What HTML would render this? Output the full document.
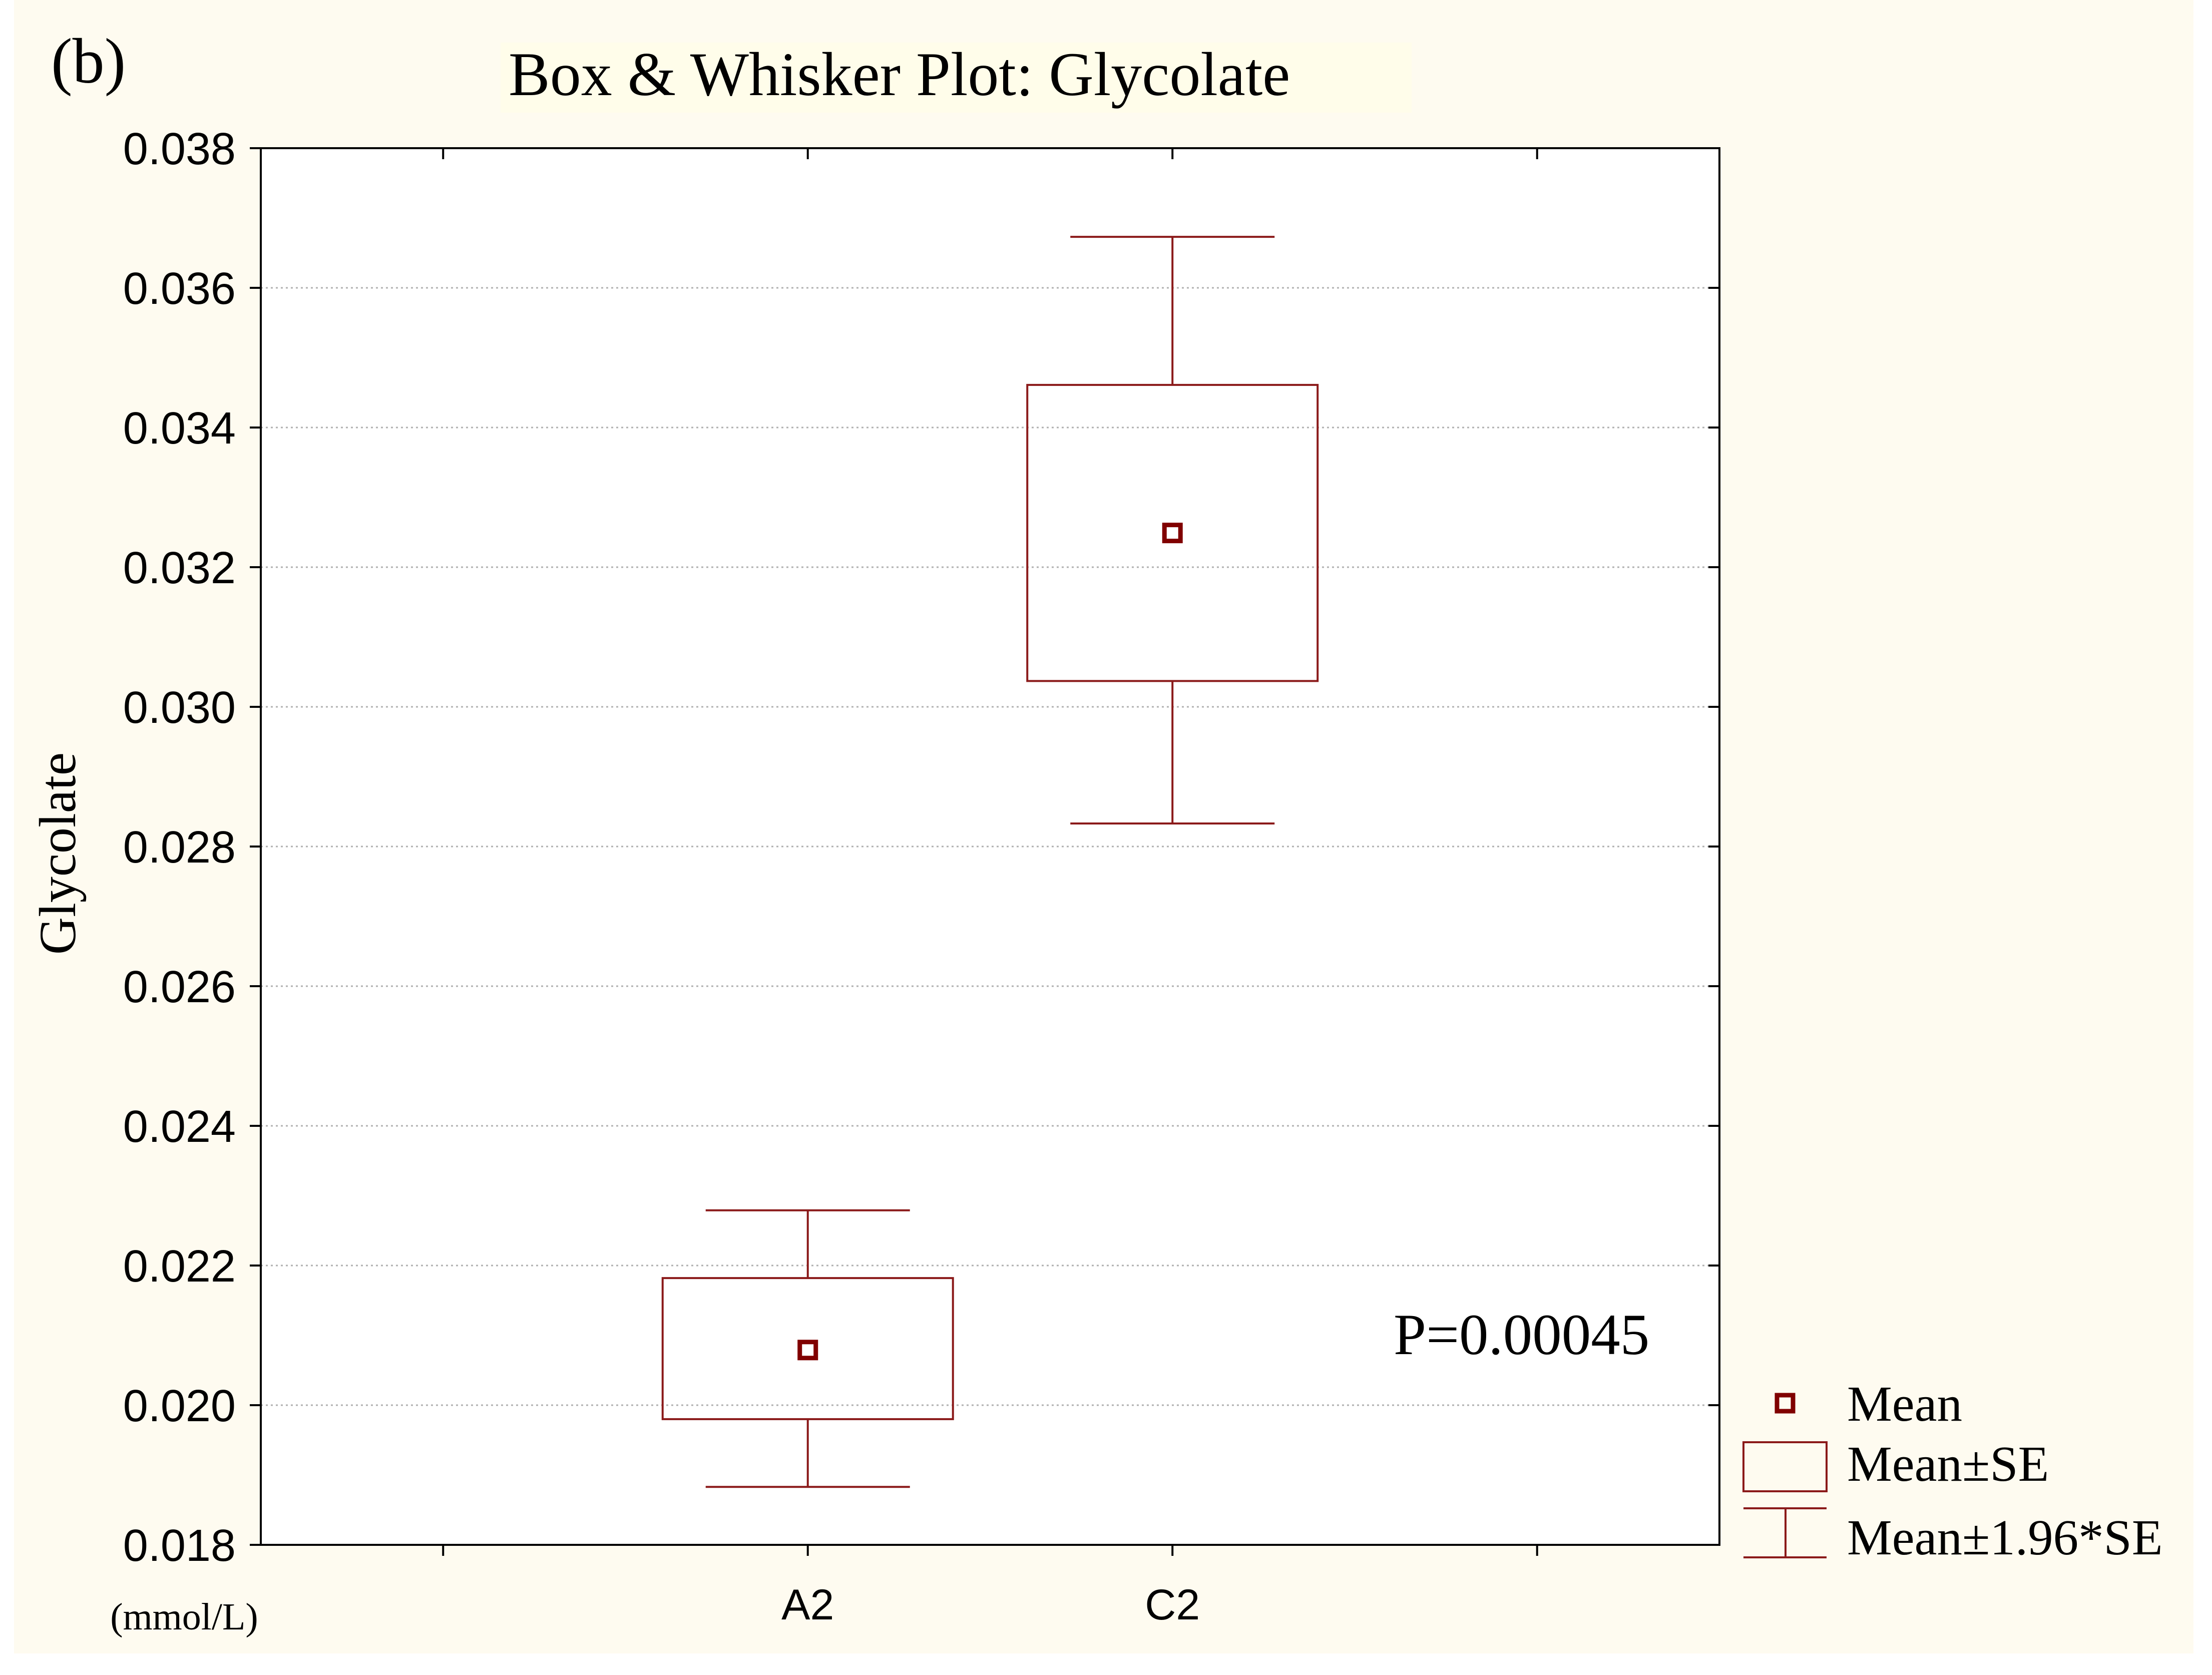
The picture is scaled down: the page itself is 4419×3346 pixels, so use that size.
<!DOCTYPE html>
<html><head><meta charset="utf-8"><style>
html,body{margin:0;padding:0;background:#fff;}
svg{display:block;}
</style></head><body>
<svg id="chart" width="4419" height="3346" viewBox="0 0 4419 3346" xmlns="http://www.w3.org/2000/svg">
<rect x="28" y="0" width="4354" height="3303" fill="#fefbf0"/>
<rect x="1000" y="85" width="1820" height="140" fill="#fffdea"/>
<rect x="521" y="296" width="2914" height="2790" fill="#ffffff"/>
<text x="102" y="165" font-family="Liberation Serif, serif" font-size="128" fill="#000">(b)</text>
<text x="1016" y="190" font-family="Liberation Serif, serif" font-size="124" fill="#000">Box &amp; Whisker Plot: Glycolate</text>
<text transform="translate(150,1705) rotate(-90)" text-anchor="middle" font-family="Liberation Serif, serif" font-size="104" fill="#000">Glycolate</text>
<text x="368" y="3255" text-anchor="middle" font-family="Liberation Serif, serif" font-size="76" fill="#000">(mmol/L)</text>
<text x="2784" y="2705" font-family="Liberation Serif, serif" font-size="117" fill="#000">P=0.00045</text>
<g id="grid"></g><g id="axes"></g><g id="marks"></g>
<g>
<rect x="3550" y="2787" width="32" height="32" fill="none" stroke="#800000" stroke-width="9"/>
<text x="3690" y="2838" font-family="Liberation Serif, serif" font-size="101" fill="#000">Mean</text>
<rect x="3483" y="2881" width="166" height="98" fill="none" stroke="#8b1a1a" stroke-width="4"/>
<text x="3690" y="2958" font-family="Liberation Serif, serif" font-size="101" fill="#000">Mean±SE</text>
<g stroke="#8b1a1a" stroke-width="4">
<line x1="3483" y1="3013" x2="3649" y2="3013"/><line x1="3483" y1="3111" x2="3649" y2="3111"/><line x1="3567" y1="3013" x2="3567" y2="3111"/></g>
<text x="3690" y="3105" font-family="Liberation Serif, serif" font-size="101" fill="#000">Mean±1.96*SE</text>
</g>
</svg>
<script>
const categories = ["A2", "C2"];
const means = [0.02079, 0.03249];
const seUpper = [0.02182, 0.03461];
const seLower = [0.01980, 0.03037];
const ciUpper = [0.02279, 0.03673];
const ciLower = [0.01883, 0.02833];
const yTicks = [0.018, 0.020, 0.022, 0.024, 0.026, 0.028, 0.030, 0.032, 0.034, 0.036, 0.038];
const yTickLabels = ["0.018","0.020","0.022","0.024","0.026","0.028","0.030","0.032","0.034","0.036","0.038"];
const catIndex = [1, 2];

const L=521,R=3435,T=296,B=3086,yMin=0.018,yMax=0.038,nSlots=4;
const y = v => B - (v - yMin) / (yMax - yMin) * (B - T);
const slot = (R - L) / nSlots;
const x = i => L + (i + 0.5) * slot;
const NS = "http://www.w3.org/2000/svg";
function mk(tag, attrs, parent){const e=document.createElementNS(NS,tag);for(const k in attrs)e.setAttribute(k,attrs[k]);parent.appendChild(e);return e;}
const grid=document.getElementById('grid'), axes=document.getElementById('axes'), marks=document.getElementById('marks');

yTicks.forEach((t,i)=>{
  const yy=y(t);
  if(i>0&&i<yTicks.length-1){
    const g=mk('line',{x1:L,x2:R,y1:yy,y2:yy,stroke:'#b0b0b0','stroke-width':3,'stroke-dasharray':'4 6'},grid);
    
    
  }
  const tk=mk('line',{x1:L-22,x2:L,y1:yy,y2:yy,stroke:'#000','stroke-width':4},axes);
  
  
  const tr=mk('line',{x1:R-22,x2:R,y1:yy,y2:yy,stroke:'#000','stroke-width':4},axes);
  
  
  const lb=mk('text',{x:471,y:yy+32,'text-anchor':'end','font-family':'Liberation Sans, sans-serif','font-size':90,fill:'#000'},axes);
  lb.textContent=yTickLabels[i];
  
  
});
for(let i=0;i<nSlots;i++){
  const xx=x(i);
  const t1=mk('line',{x1:xx,x2:xx,y1:B,y2:B+22,stroke:'#000','stroke-width':4},axes);
  
  
  const t2=mk('line',{x1:xx,x2:xx,y1:T,y2:T+22,stroke:'#000','stroke-width':4},axes);
  
  
}
const frame=mk('rect',{x:L,y:T,width:R-L,height:B-T,fill:'none',stroke:'#000','stroke-width':4},axes);



const boxHalf=290, capHalf=204, col='#8b1a1a';
categories.forEach((c,i)=>{
  const cx=x(catIndex[i]);
  const lb=mk('text',{x:cx,y:3235,'text-anchor':'middle','font-family':'Liberation Sans, sans-serif','font-size':86,fill:'#000'},axes);
  lb.textContent=c;
  
  
  const g=mk('g',{stroke:col,'stroke-width':4,fill:'none'},marks);
  
  
  mk('line',{x1:cx,x2:cx,y1:y(ciUpper[i]),y2:y(seUpper[i])},g);
  mk('line',{x1:cx,x2:cx,y1:y(seLower[i]),y2:y(ciLower[i])},g);
  mk('line',{x1:cx-capHalf,x2:cx+capHalf,y1:y(ciUpper[i]),y2:y(ciUpper[i])},g);
  mk('line',{x1:cx-capHalf,x2:cx+capHalf,y1:y(ciLower[i]),y2:y(ciLower[i])},g);
  mk('rect',{x:cx-boxHalf,y:y(seUpper[i]),width:2*boxHalf,height:y(seLower[i])-y(seUpper[i])},g);
  const m=mk('rect',{x:cx-16,y:y(means[i])-16,width:32,height:32,fill:'none',stroke:'#800000','stroke-width':9},marks);
  
  
});
</script>
</body></html>
